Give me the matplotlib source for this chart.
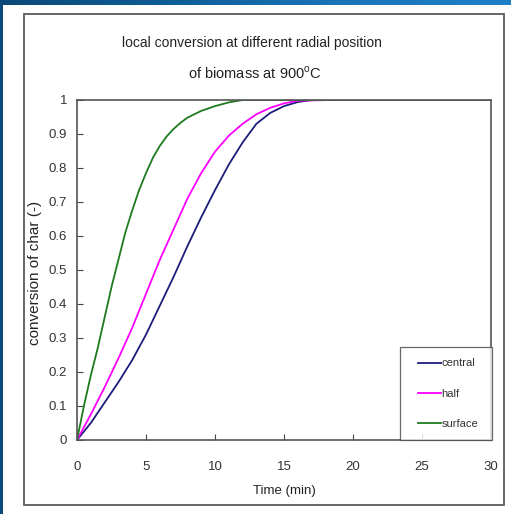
import numpy as np
import matplotlib
matplotlib.use('Agg')
import matplotlib.pyplot as plt
from matplotlib.patches import Rectangle
from matplotlib.lines import Line2D
from matplotlib.legend_handler import HandlerLine2D

plt.rcParams['font.family'] = ['Liberation Sans', 'DejaVu Sans']
plt.rcParams['mathtext.fontset'] = 'custom'
plt.rcParams['mathtext.rm'] = 'Liberation Sans'

# values (time in min, conversion of char)
central_t = [0, 1, 2, 3, 4, 5, 6, 7, 8, 9, 10, 11, 12, 13, 14, 15, 16, 17, 18.5]
central = [0, 0.05, 0.11, 0.17, 0.235, 0.31, 0.395, 0.48, 0.57, 0.655, 0.735,
           0.81, 0.875, 0.93, 0.962, 0.982, 0.994, 1.0, 1.0]

half_t = [0, 1, 2, 3, 4, 5, 6, 7, 8, 9, 10, 11, 12, 13, 14, 15, 16, 18.5]
half = [0, 0.075, 0.155, 0.24, 0.33, 0.43, 0.53, 0.62, 0.71, 0.785, 0.848,
        0.895, 0.93, 0.958, 0.977, 0.99, 0.998, 1.0]

surface_t = [0, 0.5, 1.0, 1.5, 2.0, 2.5, 3.0, 3.5, 4.0, 4.5, 5.0, 5.5, 6.0,
             6.5, 7.0, 7.5, 8.0, 9.0, 10.0, 11.0, 12.0, 30]
surface = [0, 0.10, 0.19, 0.27, 0.36, 0.45, 0.53, 0.61, 0.675, 0.735, 0.785,
           0.83, 0.865, 0.893, 0.915, 0.933, 0.948, 0.968, 0.982, 0.993, 1.0, 1.0]

series = [('central', central_t, central, '#1c1c7a'),
          ('half', half_t, half, '#ff00ff'),
          ('surface', surface_t, surface, '#1e7a1e')]

x_ticks = [0, 5, 10, 15, 20, 25, 30]
y_ticks = [0, 0.1, 0.2, 0.3, 0.4, 0.5, 0.6, 0.7, 0.8, 0.9, 1]
y_labels = ['0', '0.1', '0.2', '0.3', '0.4', '0.5', '0.6', '0.7', '0.8', '0.9', '1']

W, H = 511, 514
fig = plt.figure(figsize=(W / 100, H / 100), dpi=100)

# slide background: blue gradient strip at top and left
bg = fig.add_axes([0, 0, 1, 1])
bg.set_axis_off()
grad = np.linspace(0, 1, 256)
cmap = matplotlib.colors.LinearSegmentedColormap.from_list(
    'slide', ['#0b4a78', '#0f5d96', '#1a74b8', '#1f80c8'])
bg.imshow(grad[None, :], aspect='auto', cmap=cmap, extent=[0, W, 0, H])
bg.set_xlim(0, W)
bg.set_ylim(H, 0)
bg.add_patch(Rectangle((3, 5), W - 3, H - 5, facecolor='white', edgecolor='none'))
# chart frame
bg.add_patch(Rectangle((24, 14), 480, 491, facecolor='none',
                       edgecolor='#5a5a5a', lw=1.3))

ax = fig.add_axes([77 / W, 1 - 440 / H, 414 / W, 340 / H])
for name, t, v, c in series:
    ax.plot(t, v, color=c, lw=1.3, label=name, solid_joinstyle='round')

ax.set_xlim(0, 30)
ax.set_ylim(0, 1)
ax.set_xticks(x_ticks)
ax.set_yticks(y_ticks)
ax.set_yticklabels(y_labels)
ax.tick_params(direction='in', length=4, width=0.8, colors='#444444',
               labelsize=9.5, labelcolor='#333333')
ax.tick_params(axis='x', pad=15)
ax.tick_params(axis='y', pad=7)
for s in ax.spines.values():
    s.set_color('#555555')
    s.set_linewidth(1.2)

ax.set_xlabel('Time (min)', fontsize=9.5, color='#222222', labelpad=9)
ax.set_ylabel('conversion of char (-)', fontsize=11, color='#222222')
ax.yaxis.set_label_coords(-0.0845, 0.49)

fig.text(0.494, 1 - 43 / H, 'local conversion at different radial position',
         ha='center', va='center', fontsize=10, color='#222222')
fig.text(0.499, 1 - 73 / H, 'of biomass at 900$^{\\mathrm{o}}$C',
         ha='center', va='center', fontsize=10.5, color='#222222')

fs = 8
px = fs * 100 / 72
leg = ax.legend(loc='lower left', bbox_to_anchor=(323 / 414, 0, 92 / 414, 0.3),
                mode='expand', borderaxespad=0, fontsize=fs, frameon=True,
                fancybox=False, handlelength=30 / px,
                handletextpad=0.05, labelspacing=1.82, borderpad=1.0,
                handler_map={Line2D: HandlerLine2D(xpad=7.0 / px)})
leg.get_frame().set_edgecolor('#444444')
leg.get_frame().set_linewidth(0.9)
for txt in leg.get_texts():
    txt.set_color('#333333')

fig.savefig('out.png', dpi=100)
